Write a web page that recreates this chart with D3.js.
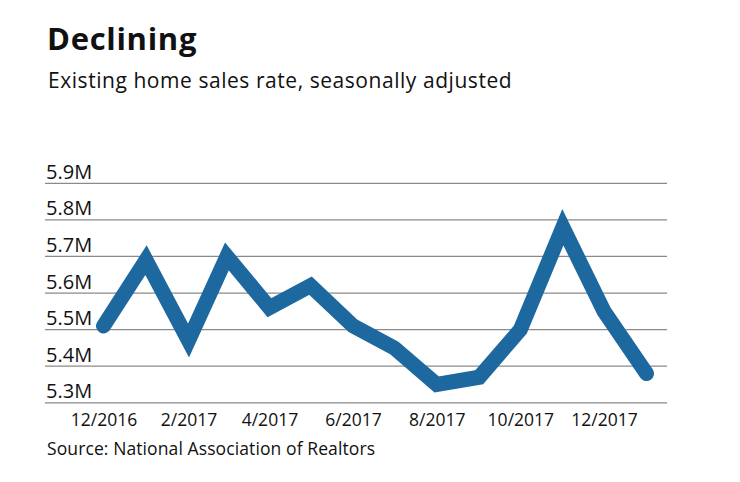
<!DOCTYPE html>
<html>
<head>
<meta charset="utf-8">
<script src="https://cdn.jsdelivr.net/npm/d3@7"></script>
<style>
  body { margin: 0; background: #fff; }
  svg text { font-family: "Open Sans", "Noto Sans", sans-serif; fill: #111; }
</style>
</head>
<body>
<svg id="chart" width="740" height="482"></svg>
<script>
// monthly existing home sales, 12/2016 .. 1/2018 (millions, SAAR)
var months = ['2016-12', '2017-01', '2017-02', '2017-03', '2017-04', '2017-05', '2017-06',
              '2017-07', '2017-08', '2017-09', '2017-10', '2017-11', '2017-12', '2018-01'];
var sales = [5.51, 5.69, 5.47, 5.70, 5.56, 5.62, 5.51, 5.45, 5.35, 5.37, 5.50, 5.78, 5.55, 5.38];
var yTicks = [5.3, 5.4, 5.5, 5.6, 5.7, 5.8, 5.9];
var xTickMonths = ['2016-12', '2017-02', '2017-04', '2017-06', '2017-08', '2017-10', '2017-12'];

var svg = d3.select('#chart');
var plotLeft = 45, plotRight = 667, plotTop = 183.3, plotBottom = 402.8;

var parse = d3.timeParse('%Y-%m');
var data = months.map(function(m, i) { return { date: parse(m), value: sales[i] }; });

var x = d3.scaleTime()
  .domain(d3.extent(data, function(d) { return d.date; }))
  .range([103.5, 646.5]);
var y = d3.scaleLinear()
  .domain([5.3, 5.9])
  .range([plotBottom, plotTop]);

// titles
svg.append('text').attr('x', 47).attr('y', 50)
  .style('font-size', '31px').style('font-weight', 700)
  .style('letter-spacing', '0.7px')
  .text('Declining');
svg.append('text').attr('x', 48).attr('y', 88)
  .style('font-size', '21px')
  .style('letter-spacing', '0.55px')
  .text('Existing home sales rate, seasonally adjusted');

// grid
svg.append('g').selectAll('line').data(yTicks).enter().append('line')
  .attr('x1', plotLeft).attr('x2', plotRight)
  .attr('y1', function(d) { return y(d); })
  .attr('y2', function(d) { return y(d); })
  .attr('stroke', '#8a8a8a').attr('stroke-width', 1.3);

svg.append('g').selectAll('text').data(yTicks).enter().append('text')
  .attr('x', 46).attr('y', function(d) { return y(d) - 4.5; })
  .style('font-size', '20px')
  .text(function(d) { return d3.format('.1f')(d) + 'M'; });

// x axis labels
var xAxis = d3.axisBottom(x)
  .tickValues(xTickMonths.map(parse))
  .tickFormat(function(d) { return (d.getMonth() + 1) + '/' + d.getFullYear(); })
  .tickSize(0).tickPadding(0);
var gx = svg.append('g').attr('transform', 'translate(0,' + plotBottom + ')').call(xAxis);
gx.select('.domain').remove();
gx.selectAll('text')
  .attr('y', 23).attr('dy', null)
  .style('font-size', '17.5px')
  .style('font-family', '"Open Sans", sans-serif')
  .attr('fill', '#111');

// line
var line = d3.line()
  .x(function(d) { return x(d.date); })
  .y(function(d) { return y(d.value); });
svg.append('path').datum(data)
  .attr('d', line)
  .attr('fill', 'none')
  .attr('stroke', '#1e68a0')
  .attr('stroke-width', 15)
  .attr('stroke-linejoin', 'miter')
  .attr('stroke-linecap', 'round');

svg.append('text').attr('x', 47).attr('y', 455)
  .style('font-size', '17.5px')
  .style('letter-spacing', '0.1px')
  .text('Source: National Association of Realtors');
</script>
</body>
</html>
